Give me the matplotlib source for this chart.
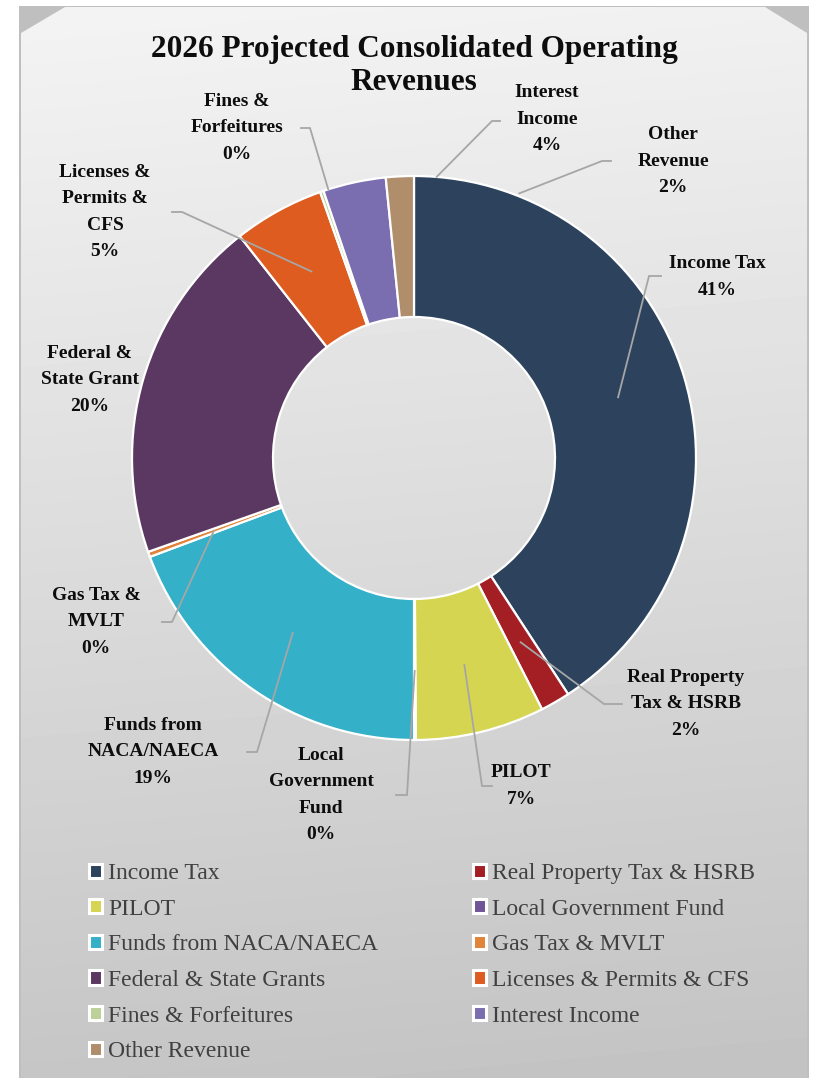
import numpy as np
import matplotlib.pyplot as plt
from matplotlib.patches import Polygon, Rectangle

plt.rcParams['font.family'] = ['Liberation Serif', 'DejaVu Serif']

# data (shares of total, %)
categories = ['Income Tax', 'Real Property Tax & HSRB', 'PILOT', 'Local Government Fund',
              'Funds from NACA/NAECA', 'Gas Tax & MVLT', 'Federal & State Grants',
              'Licenses & Permits & CFS', 'Fines & Forfeitures', 'Interest Income',
              'Other Revenue']
shares = [40.8, 1.7, 7.4, 0.1, 19.3, 0.3, 19.8, 5.2, 0.2, 3.6, 1.6]
slice_labels = ['Income Tax', 'Real Property\nTax & HSRB', 'PILOT', 'Local\nGovernment\nFund',
                'Funds from\nNACA/NAECA', 'Gas Tax &\nMVLT', 'Federal &\nState Grant',
                'Licenses &\nPermits &\nCFS', 'Fines &\nForfeitures', 'Interest\nIncome',
                'Other\nRevenue']
title_lines = ['2026 Projected Consolidated Operating', 'Revenues']
colors = ['#2D435D', '#A31F24', '#D6D552', '#6F5597', '#34B0C8', '#E0843A',
          '#5B3862', '#DE5C20', '#BBD197', '#7A6DB0', '#B08E6C']

# layout, in pixels of the 814x1078 picture
W, H = 814, 1078
CX, CY, R = 414, 458, 282
title_y = [49, 82]
label_pos = [(717, 277), (686, 704), (521, 786), (321, 795), (153, 752), (96, 622),
             (90, 380), (105, 212), (237, 128), (547, 119), (673, 161)]
# leader: (anchor angle clockwise from top or None for slice middle, anchor radius, elbow, end)
leaders = [(None, 0.755, (649, 276), (661, 276)),
           (None, 0.755, (604, 704), (622, 704)),
           (None, 0.755, (482, 786), (492, 786)),
           (None, 0.755, (407, 795), (396, 795)),
           (None, 0.755, (257, 752), (247, 752)),
           (None, 0.755, (172, 622), (162, 622)),
           None,
           (None, 0.755, (182, 212), (172, 212)),
           (342.3, 1.0, (310, 128), (301, 128)),
           (4.6, 1.0, (492, 121), (500, 121)),
           (21.7, 1.01, (602, 161), (611, 161))]


def px2pie(x, y):
    return (x - CX) / R, (CY - y) / R


fig = plt.figure(figsize=(W / 100, H / 100), dpi=100)

# background frame with gradient
bg = fig.add_axes([0, 0, 1, 1])
bg.axis('off')
bg.add_patch(Rectangle((19, 6), 790, H, facecolor='#BFBFBF', edgecolor='none', zorder=0))
yy, xx = np.mgrid[0:1:300j, 0:1:100j]
grad = 0.955 - 0.18 * yy - 0.012 * xx
img = bg.imshow(grad, cmap='gray', vmin=0, vmax=1, extent=(20, 808, H, 6),
                aspect='auto', interpolation='bilinear', zorder=1)
octagon = Polygon([(21, 33), (65, 7), (765, 7), (807, 33), (807, H), (21, H)],
                  closed=True, transform=bg.transData, facecolor='none', edgecolor='none')
bg.add_patch(octagon)
img.set_clip_path(octagon)
bg.set_xlim(0, W)
bg.set_ylim(H, 0)

# donut
ax = fig.add_axes([(CX - R) / W, (H - CY - R) / H, 2 * R / W, 2 * R / H])
wedges, _ = ax.pie(shares, colors=colors, startangle=90, counterclock=False, radius=1,
                   wedgeprops=dict(width=0.5, edgecolor='white', linewidth=1.6))
ax.set_xlim(-1, 1)
ax.set_ylim(-1, 1)
ax.patch.set_visible(False)

for line, ty in zip(title_lines, title_y):
    ax.text(*px2pie(414, ty), line, ha='center', va='center', fontsize=22.5,
            fontweight='bold', color='#0D0D0D', clip_on=False)

total = sum(shares)
for i, w in enumerate(wedges):
    pct = f'{round(shares[i] / total * 100):.0f}%'
    ax.text(*px2pie(*label_pos[i]), slice_labels[i] + '\n' + pct, ha='center', va='center',
            fontsize=14, fontweight='bold', linespacing=1.7, color='#0D0D0D', clip_on=False)
    ld = leaders[i]
    if ld is None:
        continue
    ang, r, elbow, end = ld
    if ang is None:
        th = np.radians((w.theta1 + w.theta2) / 2)
    else:
        th = np.radians(90 - ang)
    x0, y0 = r * np.cos(th), r * np.sin(th)
    ex, ey = px2pie(*elbow)
    nx, ny = px2pie(*end)
    ax.plot([x0, ex, nx], [y0, ey, ny], color='#A6A6A6', lw=1.3, clip_on=False,
            solid_joinstyle='miter')

# legend in two columns
left_idx = [0, 2, 4, 6, 8, 10]
right_idx = [1, 3, 5, 7, 9]
for idx, xpx in ((left_idx, 89), (right_idx, 473)):
    leg = fig.legend([wedges[i] for i in idx], [categories[i] for i in idx],
                     loc='upper left', bbox_to_anchor=(xpx / W, 1 - 863 / H),
                     frameon=False, fontsize=17, labelcolor='#404040',
                     handlelength=0.55, handleheight=0.55, handletextpad=0.25,
                     labelspacing=0.62, borderpad=0, borderaxespad=0)
    for p in leg.get_patches():
        p.set_linewidth(2.2)

fig.savefig('out.png', dpi=100, facecolor='white')
